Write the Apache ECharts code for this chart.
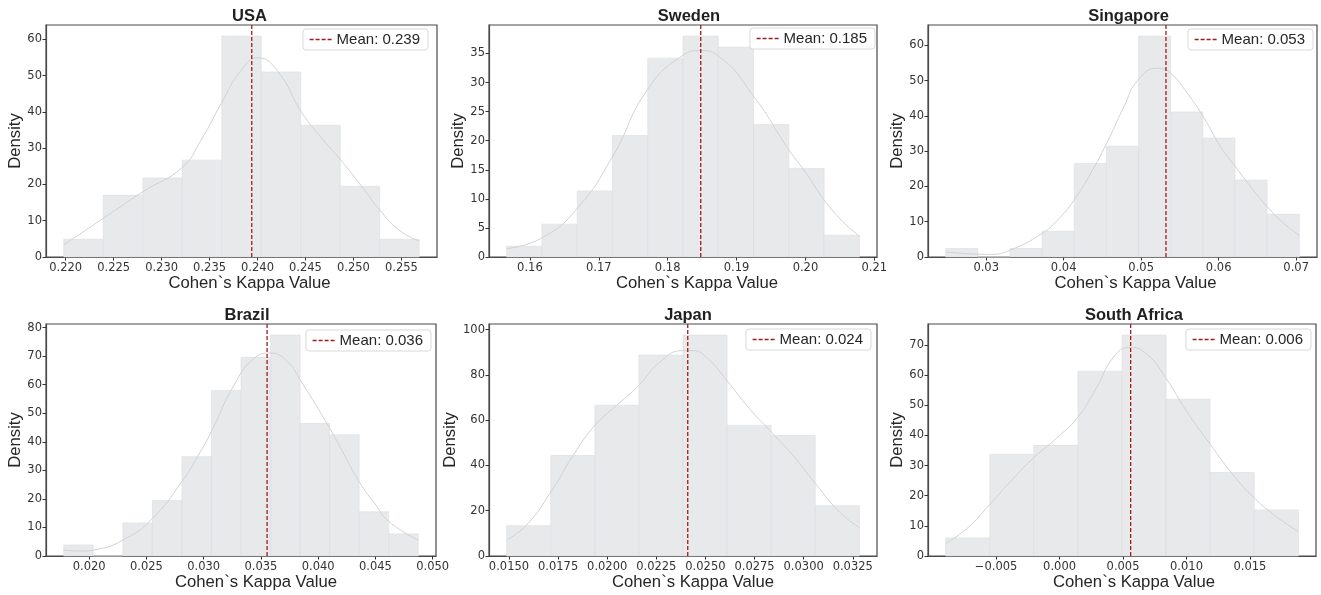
<!DOCTYPE html>
<html>
<head>
<meta charset="utf-8">
<script src="https://cdn.jsdelivr.net/npm/echarts@6/dist/echarts.min.js"></script>
<style>
  html, body { margin: 0; padding: 0; background: #fff; }
  #chart { width: 1321px; height: 595px; }
</style>
</head>
<body>
<div id="chart"></div>
<script>
const countries = ['USA', 'Sweden', 'Singapore', 'Brazil', 'Japan', 'South Africa'];
const meanValues = [0.2394, 0.1848, 0.0532, 0.03554, 0.0241, 0.0056];

// histogram bins: first edge, bin width, density per bin
const binStarts = [0.2198, 0.15662, 0.024774, 0.017775, 0.014881, -0.008974];
const binWidths = [0.004118, 0.005121, 0.0041486, 0.002581, 0.0022444, 0.0034733];

const usaDensity = [4.9, 17.0, 21.8, 26.7, 60.9, 51.0, 36.3, 19.5, 4.9];
const swedenDensity = [1.85, 5.65, 11.36, 20.9, 34.2, 38.0, 36.1, 22.8, 15.2, 3.75];
const singaporeDensity = [2.4, 0, 2.4, 7.3, 26.5, 31.4, 62.6, 41.1, 33.7, 21.8, 12.1];
const brazilDensity = [3.87, 0, 11.6, 19.4, 34.8, 58.0, 69.6, 77.4, 46.4, 42.5, 15.5, 7.75];
const japanDensity = [13.4, 44.4, 66.6, 88.8, 97.6, 57.7, 53.2, 22.2];
const southAfricaDensity = [6.0, 33.7, 36.7, 61.3, 73.3, 52.0, 27.7, 15.3];

// kde curves
const usaKde = [[0.21983, 3.4], [0.22389, 10.6], [0.22805, 18.0], [0.23211, 24.6], [0.23411, 32.2],
  [0.23621, 42.3], [0.23831, 51.5], [0.24006, 54.9], [0.24216, 51.0], [0.24457, 40.0],
  [0.24671, 32.7], [0.24870, 26.7], [0.25091, 19.3], [0.25276, 12.9], [0.25476, 7.4], [0.25686, 4.4]];
const swedenKde = [[0.15662, 1.44], [0.16178, 3.3], [0.16690, 8.4], [0.17201, 17.3], [0.17707, 28.8],
  [0.18223, 34.7], [0.18469, 35.5], [0.18734, 34.6], [0.19245, 27.7], [0.19756, 18.5],
  [0.20012, 14.4], [0.20272, 9.8], [0.20542, 6.1], [0.20783, 3.6]];
const singaporeKde = [[0.02477, 1.4], [0.02895, 0.8], [0.03058, 0.75], [0.03303, 1.9], [0.03716, 6.6],
  [0.03918, 10.4], [0.04133, 16.1], [0.04348, 23.7], [0.04555, 32.2], [0.04778, 42.6],
  [0.04959, 50.1], [0.05209, 53.5], [0.05381, 52.0], [0.05596, 46.4], [0.05802, 39.7],
  [0.06026, 31.2], [0.06219, 25.5], [0.06413, 19.9], [0.06628, 14.2], [0.06843, 9.5], [0.07041, 6.1]];
const brazilKde = [[0.017775, 2.1], [0.019473, 1.75], [0.020410, 2.1], [0.022956, 5.6], [0.025532, 13.2],
  [0.028079, 26.0], [0.029718, 36.5], [0.030654, 43.5], [0.032645, 59.8], [0.034401, 69.2],
  [0.035864, 71.1], [0.037328, 68.0], [0.038440, 61.6], [0.041016, 44.7], [0.043592, 26.0],
  [0.044938, 18.4], [0.046197, 12.0], [0.048743, 5.6]];
const japanKde = [[0.014881, 7.05], [0.015898, 13.7], [0.017134, 28.3], [0.018269, 44.5], [0.019370, 57.7],
  [0.020471, 66.5], [0.021606, 75.3], [0.022673, 85.6], [0.023842, 90.7], [0.024367, 90.7],
  [0.025044, 87.8], [0.026094, 77.5], [0.027246, 65.0], [0.028347, 54.8], [0.029448, 44.5],
  [0.030600, 32.0], [0.031819, 19.5], [0.032836, 12.5]];
const southAfricaKde = [[-0.008974, 4.2], [-0.007274, 9.2], [-0.005521, 17.0], [-0.003611, 25.9],
  [-0.002041, 32.6], [-0.000209, 39.2], [0.001413, 45.9], [0.002930, 55.9], [0.004239, 65.9],
  [0.005547, 69.2], [0.006855, 67.0], [0.008346, 59.2], [0.009995, 48.1], [0.011878, 37.0],
  [0.013658, 27.0], [0.015358, 19.2], [0.017059, 13.1], [0.018812, 8.1]];

// tick labels
const usaTicks = [0.220, 0.225, 0.230, 0.235, 0.240, 0.245, 0.250, 0.255];
const swedenTicks = [0.16, 0.17, 0.18, 0.19, 0.20, 0.21];
const singaporeTicks = [0.03, 0.04, 0.05, 0.06, 0.07];
const brazilTicks = [0.020, 0.025, 0.030, 0.035, 0.040, 0.045, 0.050];
const japanTicks = [0.0150, 0.0175, 0.0200, 0.0225, 0.0250, 0.0275, 0.0300, 0.0325];
const southAfricaTicks = [-0.005, 0.000, 0.005, 0.010, 0.015];
const tickDecimals = [3, 2, 2, 3, 4, 3];

const usaYTicks = [0, 10, 20, 30, 40, 50, 60];
const swedenYTicks = [0, 5, 10, 15, 20, 25, 30, 35];
const singaporeYTicks = [0, 10, 20, 30, 40, 50, 60];
const brazilYTicks = [0, 10, 20, 30, 40, 50, 60, 70, 80];
const japanYTicks = [0, 20, 40, 60, 80, 100];
const southAfricaYTicks = [0, 10, 20, 30, 40, 50, 60, 70];

const densities = [usaDensity, swedenDensity, singaporeDensity, brazilDensity, japanDensity, southAfricaDensity];
const kdes = [usaKde, swedenKde, singaporeKde, brazilKde, japanKde, southAfricaKde];
const xTicks = [usaTicks, swedenTicks, singaporeTicks, brazilTicks, japanTicks, southAfricaTicks];
const yTicks = [usaYTicks, swedenYTicks, singaporeYTicks, brazilYTicks, japanYTicks, southAfricaYTicks];

// layout: [left, top, width, height] of each plot area
const gridBoxes = [
  [46, 25, 391, 232], [489, 25, 388, 232], [928, 25, 389, 232],
  [46, 324, 390, 232], [489, 324, 388, 232], [928, 324, 388, 232]
];
const legendSpots = [[893, 29], [446, 28], [8, 29], [890, 330], [450, 329], [10, 329]];
const titleTops = [8, 8, 8, 307, 307, 307];
// the source figure has its titles and x labels sitting a little right of the plot centre
const titleShift = [8, 6, 6, 6, 5, 12];
const xNameShift = [8, 14, 13, 15, 10, 12];

const frameColor = '#4a4a4a';
const textColor = '#262626';
const meanColor = '#a3191c';

function fmtTick(v, d) {
  if (Math.abs(v) < 1e-12) v = 0;
  const s = Math.abs(v).toFixed(d);
  return v < 0 ? '\u2212' + s : s;
}

const chart = echarts.init(document.getElementById('chart'), null, { renderer: 'canvas' });
const option = { animation: false, title: [], grid: [], xAxis: [], yAxis: [], legend: [], series: [] };

countries.forEach((name, i) => {
  const [left, top, width, height] = gridBoxes[i];
  const heights = densities[i];
  const bins = heights.map((h, k) => [binStarts[i] + k * binWidths[i], binStarts[i] + (k + 1) * binWidths[i], h]);
  const lo = binStarts[i];
  const hi = binStarts[i] + heights.length * binWidths[i];
  const pad = (hi - lo) * 0.05;
  const yMax = Math.max(...heights) * 1.05;
  const label = 'Mean: ' + meanValues[i].toFixed(3);

  option.title.push({
    text: name, left: left + width / 2 + titleShift[i], top: titleTops[i], textAlign: 'center', padding: 0,
    textStyle: { fontFamily: 'Liberation Sans', fontWeight: 'bold', fontSize: 16.5, color: '#1f1f1f' }
  });

  option.grid.push({
    left: left, top: top, width: width, height: height, show: true,
    borderColor: frameColor, borderWidth: 1.2, backgroundColor: 'transparent',
    containLabel: false, outerBoundsMode: 'none'
  });

  option.xAxis.push({
    type: 'value', gridIndex: i, min: lo - pad, max: hi + pad,
    splitLine: { show: false },
    axisLine: { show: true, onZero: false, lineStyle: { color: frameColor, width: 1.2 } },
    axisTick: { show: true, length: 3.5, customValues: xTicks[i], lineStyle: { color: '#333', width: 1 } },
    axisLabel: {
      customValues: xTicks[i], formatter: v => fmtTick(v, tickDecimals[i]), margin: 5,
      fontFamily: 'DejaVu Sans', fontSize: 11.5, color: '#333'
    },
    name: 'Cohen`s Kappa Value', nameLocation: 'middle', nameGap: 15,
    nameTextStyle: {
      fontFamily: 'Liberation Sans', fontSize: 16.7, color: textColor,
      padding: [0, 0, 0, xNameShift[i] * 2]
    }
  });

  option.yAxis.push({
    type: 'value', gridIndex: i, min: 0, max: yMax,
    splitLine: { show: false },
    axisLine: { show: true, onZero: false, lineStyle: { color: frameColor, width: 1.2 } },
    axisTick: { show: true, length: 3.5, customValues: yTicks[i], lineStyle: { color: '#333', width: 1 } },
    axisLabel: {
      customValues: yTicks[i], formatter: v => String(v), margin: 4,
      fontFamily: 'DejaVu Sans', fontSize: 11.5, color: '#333'
    },
    name: 'Density', nameLocation: 'middle', nameGap: 19,
    nameTextStyle: { fontFamily: 'Liberation Sans', fontSize: 16.7, color: textColor }
  });

  // the line icon keeps the dashed stroke; the marker in its middle is hidden
  option.legend.push({
    data: [label], right: legendSpots[i][0], top: legendSpots[i][1],
    backgroundColor: '#fff', borderColor: '#d9d9d9', borderWidth: 1, borderRadius: 3,
    padding: [3, 8, 3, 6], itemWidth: 22, itemHeight: 14, selectedMode: false,
    itemStyle: { opacity: 0 },
    lineStyle: { color: meanColor, width: 1.3, type: [4, 2] },
    textStyle: { fontFamily: 'Liberation Sans', fontSize: 15, color: textColor }
  });

  option.series.push({
    name: name + ' hist', type: 'custom', xAxisIndex: i, yAxisIndex: i, data: bins,
    encode: { x: [0, 1], y: 2 }, silent: true, z: 2,
    renderItem: (params, api) => {
      const a = api.coord([api.value(0), api.value(2)]);
      const b = api.coord([api.value(1), 0]);
      return {
        type: 'rect',
        shape: { x: a[0], y: a[1], width: b[0] - a[0], height: b[1] - a[1] },
        style: { fill: '#e8e9eb', stroke: '#dcdde0', lineWidth: 0.6 }
      };
    }
  });

  option.series.push({
    name: name + ' kde', type: 'line', xAxisIndex: i, yAxisIndex: i, data: kdes[i],
    smooth: 0.5, symbol: 'none', silent: true, z: 3,
    lineStyle: { color: '#d2d2d2', width: 1 }
  });

  option.series.push({
    name: label, type: 'line', xAxisIndex: i, yAxisIndex: i,
    data: [[meanValues[i], 0], [meanValues[i], yMax]],
    symbol: 'none', silent: true, z: 5,
    itemStyle: { color: meanColor },
    lineStyle: { color: meanColor, width: 1.3, type: [4, 2] }
  });
});

chart.setOption(option);
window.addEventListener('resize', () => chart.resize());
</script>
</body>
</html>
